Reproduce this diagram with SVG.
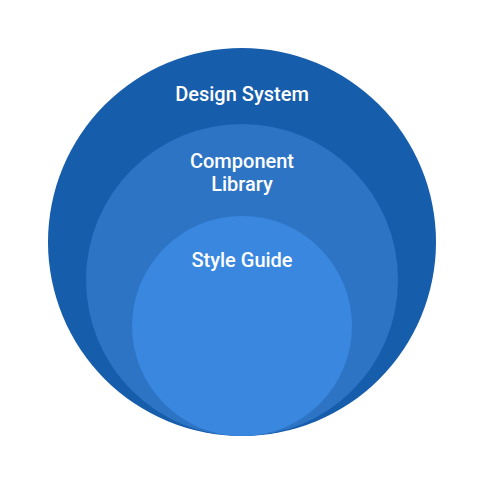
<svg xmlns="http://www.w3.org/2000/svg" width="485" height="485" viewBox="0 0 485 485">
  <style>
    .label { font-family: Roboto, "Liberation Sans", sans-serif; font-size: 20px; font-weight: 500; fill: #ffffff; text-anchor: middle; }
  </style>
  <rect width="485" height="485" fill="#ffffff"/>
  <g id="design-system">
    <circle cx="242" cy="242" r="194" fill="#165dac"/>
    <text class="label" x="242" y="101">Design System</text>
  </g>
  <g id="component-library">
    <circle cx="242" cy="280" r="156" fill="#2d74c5"/>
    <text class="label" x="242" y="168">Component</text>
    <text class="label" x="242" y="191">Library</text>
  </g>
  <g id="style-guide">
    <circle cx="242" cy="326" r="110" fill="#3a87e0"/>
    <text class="label" x="242" y="267">Style Guide</text>
  </g>
  <g id="connectors"/>
</svg>
